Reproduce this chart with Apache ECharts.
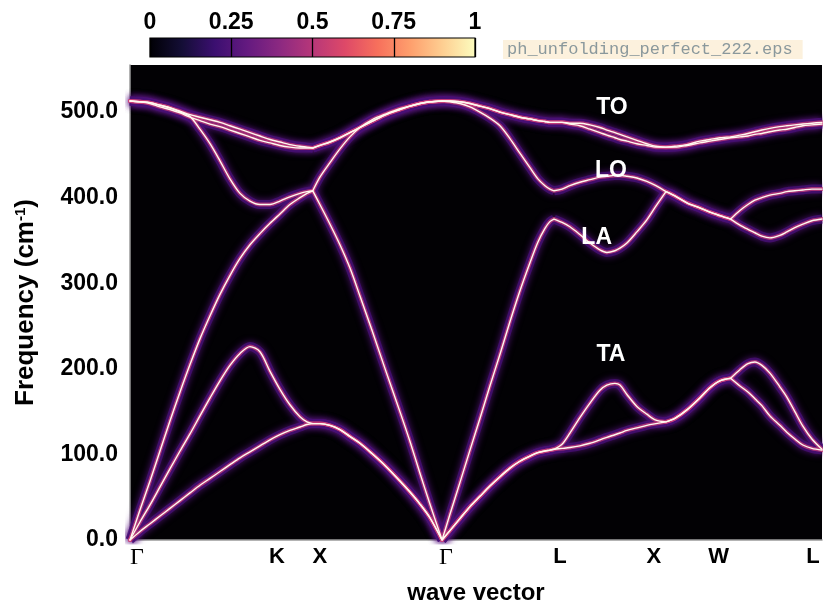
<!DOCTYPE html>
<html>
<head>
<meta charset="utf-8">
<script src="https://cdn.jsdelivr.net/npm/echarts@6/dist/echarts.min.js"></script>
<style>html,body{margin:0;padding:0;background:#fff;}#c{width:823px;height:603px;}</style>
</head>
<body>
<div id="c"></div>
<script>
// wave-vector coordinate along the path (2pi/a units)
const kPath = [
  0, 0.077, 0.155, 0.232, 0.309, 0.387, 0.464, 0.541, 0.619, 0.696, 0.773, 0.851, 0.928, 1.005, 1.083, 1.160, 1.237, 1.315, 1.369, 1.414,
  1.469, 1.547, 1.624, 1.701, 1.779, 1.872, 1.980, 2.088, 2.166, 2.243, 2.320, 2.414,
  2.475, 2.552, 2.630, 2.707, 2.784, 2.862, 2.939, 3.016, 3.094, 3.155, 3.210, 3.248, 3.280,
  3.342, 3.403, 3.480, 3.558, 3.635, 3.689, 3.751, 3.790, 3.844, 3.921, 3.998, 4.068, 4.146,
  4.215, 4.308, 4.408, 4.486, 4.563, 4.646,
  4.718, 4.780, 4.834, 4.888, 4.950, 5.027, 5.081, 5.143, 5.205, 5.275, 5.353
];
const kMax = 5.353;
// indices in kPath of the path corners (Γ, X, Γ, L, X, W, L)
const cornerIdx = [0, 19, 31, 44, 57, 63, 74];

// high-symmetry labels (positions as seen under the axis)
const labelNames = ['Γ', 'K', 'X', 'Γ', 'L', 'X', 'W', 'L'];
const labelPos = [0.054, 1.137, 1.469, 2.444, 3.326, 4.053, 4.553, 5.283];

// frequencies (cm^-1)
const bandTA1 = [
  0, 10, 19, 28, 37, 46, 55, 64, 72, 80, 88, 96, 103, 110, 117, 123, 128, 132, 135, 136,
  136, 134, 129, 121, 113, 101, 86, 69, 56, 42, 26, 0,
  11, 25, 39, 51, 63, 74, 84, 92, 98, 102, 104, 105, 106,
  107, 108, 110, 113, 117, 120, 123, 125, 128, 131, 134, 136, 138,
  142, 152, 166, 178, 186, 189,
  180, 173, 165, 157, 145, 134, 126, 118, 111, 107, 105
];
const bandTA2 = [
  0, 21, 41, 62, 83, 104, 124, 145, 166, 186, 204, 218, 226, 220, 197, 176, 158, 144, 138, 136,
  136, 134, 129, 121, 113, 101, 86, 69, 56, 42, 26, 0,
  11, 25, 39, 51, 63, 74, 84, 92, 98, 102, 104, 105, 106,
  112, 125, 143, 160, 175, 181, 183, 181, 170, 156, 147, 140, 138,
  142, 152, 166, 178, 186, 189,
  199, 206, 208, 204, 195, 179, 167, 150, 133, 118, 106
];
const bandLA = [
  0, 35, 69, 104, 139, 173, 205, 235, 262, 287, 309, 329, 345, 358, 370, 381, 392, 400, 405, 408,
  392, 369, 345, 318, 285, 245, 197, 150, 115, 78, 42, 0,
  30, 67, 105, 142, 180, 217, 255, 291, 324, 348, 364, 372, 375,
  371, 366, 357, 347, 339, 336, 338, 341, 347, 360, 374, 390, 407,
  402, 394, 388, 383, 379, 375,
  368, 363, 359, 355, 353, 356, 360, 365, 369, 373, 375
];
const bandLO = [
  513, 512, 511, 508, 505, 500, 495, 480, 463, 443, 422, 405, 396, 392, 392, 396, 401, 405, 407, 408,
  424, 441, 457, 471, 482, 491, 498, 504, 507, 510, 512, 513,
  512, 510, 506, 500, 493, 484, 469, 452, 435, 422, 414, 410, 408,
  410, 414, 418, 421, 424, 425, 426, 426, 425, 423, 419, 414, 407,
  402, 394, 388, 383, 379, 375,
  385, 392, 397, 400, 403, 405, 407, 408, 409, 410, 410
];
const bandTO1 = [
  513, 512, 511, 508, 505, 501, 497, 494, 491, 488, 484, 480, 476, 472, 468, 465, 462, 460, 459, 458,
  461, 465, 470, 476, 482, 489, 497, 503, 507, 510, 512, 513,
  513, 512, 510, 507, 504, 500, 497, 494, 492, 490, 489, 488, 488,
  488, 487, 487, 485, 482, 479, 476, 474, 471, 467, 463, 460, 459,
  460, 462, 466, 468, 470, 471,
  473, 475, 477, 479, 481, 483, 484, 485, 486, 487, 488
];
const bandTO2 = [
  513, 512, 510, 506, 503, 499, 494, 490, 486, 483, 479, 475, 471, 467, 464, 461, 459, 458, 458, 458,
  461, 465, 470, 476, 482, 489, 497, 503, 507, 510, 512, 513,
  513, 512, 510, 507, 504, 500, 497, 494, 492, 490, 489, 488, 488,
  488, 486, 484, 480, 476, 473, 470, 468, 466, 463, 461, 459, 459,
  459, 461, 464, 466, 468, 470,
  471, 472, 474, 475, 477, 479, 480, 482, 484, 485, 486
];
const bands = [bandTA1, bandTA2, bandLA, bandLO, bandTO1, bandTO2];

// branch annotations [k, freq, text]
const branchLabels = [[3.728, 505, 'TO'], [3.72, 432, 'LO'], [3.61, 353, 'LA'], [3.72, 216, 'TA']];

// colour-bar ticks
const cbarTicks = [0, 0.25, 0.5, 0.75, 1];

const magma = [
  [0.0, '#000004'], [0.1, '#140e36'], [0.2, '#3b0f70'], [0.3, '#641a80'], [0.4, '#8c2981'],
  [0.5, '#b73779'], [0.6, '#de4968'], [0.7, '#f7705c'], [0.8, '#fe9f6d'], [0.9, '#fecf92'], [1.0, '#fcfdbf']
];

const chart = echarts.init(document.getElementById('c'), null, {renderer: 'canvas'});
const SANS = '"Liberation Sans", Arial, Helvetica, sans-serif';
const SERIF = '"Liberation Serif", "Times New Roman", serif';

// build band polylines split at the path corners (so corners stay sharp)
function bandData(b) {
  const out = [];
  for (let s = 0; s < cornerIdx.length - 1; s++) {
    for (let i = cornerIdx[s]; i <= cornerIdx[s + 1]; i++) out.push([kPath[i], b[i]]);
    if (s < cornerIdx.length - 2) out.push(['-', '-']);
  }
  return out;
}

const layers = [
  {width: 9, color: 'rgba(70,15,116,0.8)', shadowBlur: 7, shadowColor: 'rgba(92,22,132,1)', cap: 'butt', join: 'round'},
  {width: 4, color: 'rgba(204,64,120,0.72)', cap: 'round', join: 'round'},
  {width: 1.4, color: '#fff8ef', cap: 'round', join: 'round'}
];
const series = [];
layers.forEach((ls, li) => {
  bands.forEach((b, bi) => {
    series.push({
      type: 'line', xAxisIndex: 0, yAxisIndex: 0, name: 'b' + bi + '_' + li,
      data: bandData(b), connectNulls: false,
      smooth: 0.3,
      showSymbol: false, symbol: 'none', silent: true,
      lineStyle: Object.assign({}, ls),
      z: 2 + li
    });
  });
});
series.push({
  type: 'scatter', xAxisIndex: 0, yAxisIndex: 0, symbolSize: 1, silent: true, z: 10,
  itemStyle: {opacity: 0},
  data: branchLabels.map(d => ({value: [d[0], d[1]], name: d[2]})),
  label: {show: true, position: 'inside', formatter: p => p.name, color: '#ffffff', opacity: 1,
    fontFamily: SANS, fontWeight: 'bold', fontSize: 23, textBorderWidth: 0}
});

chart.setOption({
  animation: false,
  backgroundColor: '#fff',
  grid: [
    {left: 130, top: 65, width: 692, height: 475, show: true, backgroundColor: '#020104', borderWidth: 0,
      containLabel: false, outerBoundsMode: 'none'},
    {left: 150, top: 38, width: 325, height: 19, show: true,
      backgroundColor: new echarts.graphic.LinearGradient(0, 0, 1, 0, magma.map(s => ({offset: s[0], color: s[1]}))),
      borderColor: '#000', borderWidth: 1.2, containLabel: false, outerBoundsMode: 'none'}
  ],
  xAxis: [
    {type: 'value', gridIndex: 0, min: 0, max: kMax,
      axisLine: {show: true, onZero: false, lineStyle: {color: '#9a9a9a', width: 1.5}},
      axisTick: {show: false}, splitLine: {show: false},
      axisLabel: {
        customValues: labelPos, margin: 6, showMinLabel: true, showMaxLabel: true,
        formatter: v => {
          let best = 0;
          labelPos.forEach((p, i) => { if (Math.abs(p - v) < Math.abs(labelPos[best] - v)) best = i; });
          const n = labelNames[best];
          return n === 'Γ' ? '{g|' + n + '}' : '{b|' + n + '}';
        },
        rich: {
          g: {fontFamily: SERIF, fontSize: 24, color: '#000', fontWeight: 'normal'},
          b: {fontFamily: SANS, fontSize: 22, color: '#000', fontWeight: 'bold'}
        }
      },
      name: 'wave vector', nameLocation: 'middle', nameGap: 41,
      nameTextStyle: {fontFamily: SANS, fontWeight: 'bold', fontSize: 24, color: '#000'}
    },
    {type: 'value', gridIndex: 1, min: 0, max: 1, interval: 0.25, position: 'top',
      axisLine: {show: false}, axisTick: {show: false},
      splitLine: {show: true, lineStyle: {color: '#000', width: 1.3}},
      axisLabel: {margin: 4, color: '#000', fontFamily: SANS, fontWeight: 'bold', fontSize: 23,
        customValues: cbarTicks, formatter: v => String(v)}
    }
  ],
  yAxis: [
    {type: 'value', gridIndex: 0, min: 0, max: 555, interval: 100,
      axisLine: {show: true, lineStyle: {color: '#9a9a9a', width: 1.5}},
      axisTick: {show: false}, splitLine: {show: false},
      axisLabel: {margin: 12, color: '#000', fontFamily: SANS, fontWeight: 'bold', fontSize: 23,
        showMaxLabel: false, formatter: v => (v % 100 === 0 ? v.toFixed(1) : '')},
      name: 'Frequency (cm{sup|-1})', nameLocation: 'middle', nameGap: 91, nameRotate: 90,
      nameTextStyle: {fontFamily: SANS, fontWeight: 'bold', fontSize: 26, color: '#000',
        rich: {sup: {fontFamily: SANS, fontWeight: 'bold', fontSize: 15, color: '#000', verticalAlign: 'top', lineHeight: 26}}}
    },
    {type: 'value', gridIndex: 1, min: 0, max: 1, show: false}
  ],
  graphic: [
    {type: 'text', left: 503, top: 40, z: 20,
      style: {text: 'ph_unfolding_perfect_222.eps', font: '17px "Liberation Mono", "DejaVu Sans Mono", monospace',
        fill: '#8a989c', backgroundColor: '#fcf1dd', padding: [1, 10, 1, 4]}}
  ],
  series: series
});
</script>
</body>
</html>
